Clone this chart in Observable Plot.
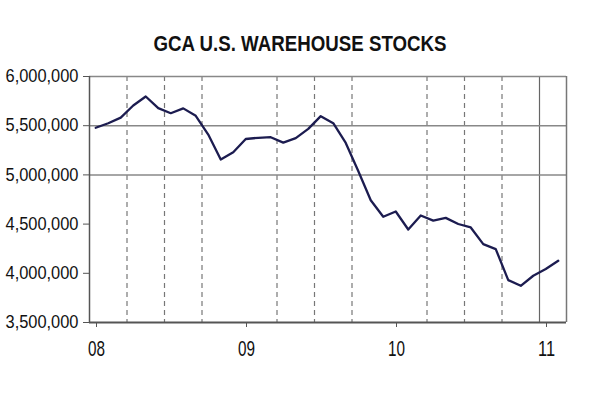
<!DOCTYPE html>
<html>
<head>
<meta charset="utf-8">
<script src="https://cdn.jsdelivr.net/npm/d3@7"></script>
<script src="https://cdn.jsdelivr.net/npm/@observablehq/plot@0.6"></script>
<style>
  html, body { margin: 0; padding: 0; background: #fff; }
  #wrap { width: 600px; height: 397px; overflow: hidden; }
  #title { height: 62px; width: 600px; position: relative; }
  #title span {
    position: absolute; left: 50%; top: 33px;
    transform: translateX(-50%) scaleX(0.85);
    font-family: "Liberation Sans", Arial, sans-serif; font-weight: bold;
    font-size: 22px; color: #111; white-space: nowrap; line-height: 1;
  }
</style>
</head>
<body>
<div id="wrap">
  <div id="title"><span>GCA U.S. WAREHOUSE STOCKS</span></div>
  <div id="chart"></div>
</div>
<script>
// Monthly GCA U.S. warehouse stocks (bags), Jan 2008 – Feb 2011
const months = [
  "2008-01","2008-02","2008-03","2008-04","2008-05","2008-06","2008-07","2008-08","2008-09","2008-10","2008-11","2008-12",
  "2009-01","2009-02","2009-03","2009-04","2009-05","2009-06","2009-07","2009-08","2009-09","2009-10","2009-11","2009-12",
  "2010-01","2010-02","2010-03","2010-04","2010-05","2010-06","2010-07","2010-08","2010-09","2010-10","2010-11","2010-12",
  "2011-01","2011-02"
];
const stocks = [
  5479000, 5525000, 5582000, 5705000, 5797000, 5678000, 5627000, 5676000, 5600000, 5410000, 5156000, 5230000,
  5365000, 5377000, 5383000, 5328000, 5373000, 5468000, 5597000, 5525000, 5325000, 5040000, 4742000, 4575000,
  4628000, 4445000, 4588000, 4535000, 4563000, 4501000, 4466000, 4297000, 4246000, 3931000, 3873000, 3975000,
  4043000, 4127000
];
const yearTicks = [2008, 2009, 2010, 2011];
const yearLabels = ["08", "09", "10", "11"];
const quarterLines = [2008.25, 2008.5, 2008.75, 2009.25, 2009.5, 2009.75, 2010.25, 2010.5, 2010.75];
const solidYearLines = [2011];
const yTicks = [3500000, 4000000, 4500000, 5000000, 5500000, 6000000];
const yGrid = [5000000, 5500000, 6000000];

const data = months.map((m, i) => {
  const [yy, mm] = m.split("-").map(Number);
  return {t: yy + (mm - 0.5) / 12, v: stocks[i]};
});

const xMax = 2008 + 477 / 150;

const chart = Plot.plot({
  width: 600,
  height: 335,
  marginTop: 14,
  marginBottom: 75,
  marginLeft: 89,
  marginRight: 34,
  style: {fontFamily: "'Liberation Sans', Arial, sans-serif", background: "#fff", color: "#111"},
  x: {domain: [2008, xMax], label: null},
  y: {domain: [3500000, 6000000], label: null},
  marks: [
    Plot.ruleX(quarterLines, {stroke: "#777", strokeWidth: 1.2, strokeDasharray: "5,4"}),
    Plot.ruleX(solidYearLines, {stroke: "#666", strokeWidth: 1.2}),
    Plot.ruleY(yGrid, {stroke: "#888", strokeWidth: 1.5}),
    Plot.ruleX([xMax], {stroke: "#777", strokeWidth: 1.5}),
    Plot.line(data, {x: "t", y: "v", stroke: "#1c1c50", strokeWidth: 2.3}),
    Plot.axisY({ticks: yTicks, tickFormat: d3.format(","), tickSize: 6, tickPadding: 5, fontSize: 18, stroke: "#555", color: "#111", label: null}),
    Plot.ruleX([2008], {stroke: "#555", strokeWidth: 1.5}),
    Plot.axisX({ticks: yearTicks, tickFormat: (d) => yearLabels[yearTicks.indexOf(d)], tickSize: 5, tickPadding: 13, fontSize: 22, dx: 7, stroke: "#555", label: null}),
    Plot.ruleY([3500000], {stroke: "#555", strokeWidth: 1.8})
  ]
});
document.getElementById("chart").appendChild(chart);

// condense tick labels horizontally (narrow typeface look)
d3.select(chart).selectAll('g[aria-label="x-axis tick label"] text')
  .attr("textLength", 17).attr("lengthAdjust", "spacingAndGlyphs");
d3.select(chart).selectAll('g[aria-label="y-axis tick label"] text')
  .attr("textLength", 73).attr("lengthAdjust", "spacingAndGlyphs");
</script>
</body>
</html>
